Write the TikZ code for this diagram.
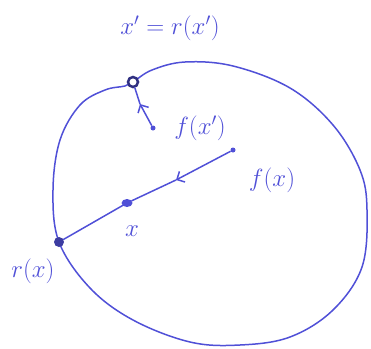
\documentclass[tikz,border=0pt]{standalone}
\usetikzlibrary{arrows.meta,shapes.geometric}
\definecolor{pen}{RGB}{80,80,215}
\tikzset{
  pencurve/.style={draw=pen, line width=1.5pt, line join=round, line cap=round},
  dot/.style={circle, fill=pen, inner sep=0pt, minimum size=#1},
  lbl/.style={text=pen, font=\fontsize{25}{27}\selectfont, inner sep=0pt},
  penarrow/.style={-{Straight Barb[length=6pt,width=12pt]}, draw=pen, line width=1.5pt}
}
\begin{document}
\begin{tikzpicture}[x=1pt,y=-1pt]
\useasboundingbox (0,0) rectangle (371,348);
% the boundary curve
\draw[pencurve] plot[smooth cycle, tension=0.6] coordinates {
  (133,82) (152,70) (185,62) (233,66) (290,88) (333,125) (360,170) (367,210)
  (362,267) (333,310) (290,337) (240,345) (190,342) (133,320) (90,288)
  (59,242) (53,190) (60,140) (80,105) (105,90) (125,86)};
% points
\node[circle, draw=pen!60!black, line width=2.5pt, fill=white, inner sep=0pt, minimum size=10pt] (xp) at (133,82) {};
\node[dot=5pt] (fxp) at (153,128) {};
\node[dot=5pt] (fx) at (233,150) {};
\node[ellipse, fill=pen, inner sep=0pt, minimum width=11pt, minimum height=8pt] (x) at (127,203) {};
\node[dot=10pt, fill=pen!75!black] (rx) at (59,242) {};
\coordinate (am) at (140,104);
\coordinate (bm) at (176,180);
% connectors
\draw[penarrow] (fxp) -- (am);
\draw[pencurve] (am) -- (xp);
\draw[penarrow] (fx) -- (bm);
\draw[pencurve] (bm) -- (x) -- (rx);
% labels
\node[lbl] (lxp) at (170,28) {$x'=r(x')$};
\node[lbl] (lfxp) at (200,128) {$f(x')$};
\node[lbl] (lfx) at (272,180) {$f(x)$};
\node[lbl] (lx) at (132,231) {$x$};
\node[lbl] (lrx) at (33,271) {$r(x)$};
\end{tikzpicture}
\end{document}
